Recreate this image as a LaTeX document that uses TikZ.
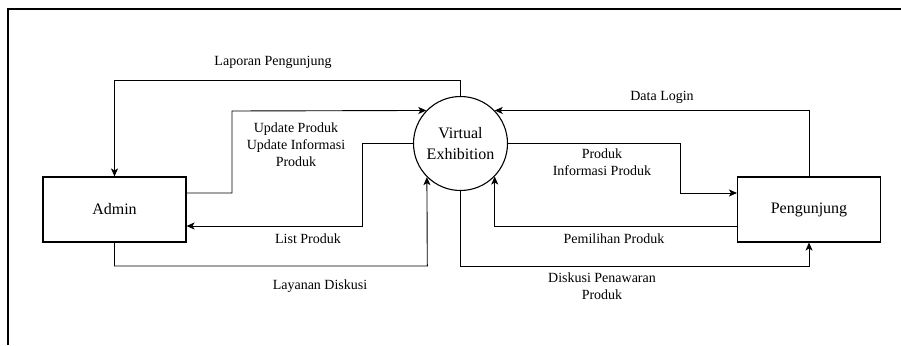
\documentclass[tikz,border=0pt]{standalone}
\usepackage{fontspec}
\setmainfont{Liberation Serif}
\usetikzlibrary{arrows.meta}
\begin{document}
\begin{tikzpicture}[x=1pt,y=-1pt,
  entity/.style={draw,line width=1.1pt,minimum width=143pt,minimum height=65pt,inner sep=0pt,font=\fontsize{16}{19}\selectfont},
  process/.style={draw,line width=1.1pt,circle,minimum size=94pt,inner sep=0pt,align=center,font=\fontsize{16}{21}\selectfont},
  flow/.style={draw,line width=0.9pt,-{Stealth[length=8pt,width=7pt,inset=2pt]}},
  lbl/.style={align=center,inner sep=0pt,font=\fontsize{14}{17}\selectfont}]
\useasboundingbox (0,0) rectangle (901,345);
% outer frame
\draw[line width=1.1pt] (8,345) -- (8,9) -- (901,9);

% entities and process
\node[entity] (admin) at (114.5,209.5) {Admin};
\node[entity] (peng) at (809,209.5) {Pengunjung};
\node[process] (ve) at (460.5,143.5) {Virtual\\Exhibition};

% data flows, Admin side
\draw[flow] (ve.north) |- (114.5,80) -- (admin.north);
\draw[flow] ([yshift=16.5pt]admin.east) -| (232,111) -- (ve.136);
\draw[flow] (ve.west) -| (362,226) -- ([yshift=-16.5pt]admin.east);
\draw[flow] (admin.south) |- (427.3,266) -- (ve.225);

% data flows, Pengunjung side
\draw[flow] (peng.north) |- (ve.44);
\draw[flow] (ve.east) -| (680,193) -- ([yshift=16.5pt]peng.west);
\draw[flow] ([yshift=-16.5pt]peng.west) -| (ve.316);
\draw[flow] (ve.south) |- (809,266) -- (peng.south);

% flow labels
\node[lbl] (l1) at (273,62) {Laporan Pengunjung};
\node[lbl] (l2) at (296,145) {Update Produk\\Update Informasi\\Produk};
\node[lbl] (l3) at (308,239) {List Produk};
\node[lbl] (l4) at (320,286) {Layanan Diskusi};
\node[lbl] (l5) at (662,97) {Data Login};
\node[lbl] (l6) at (602,162.5) {Produk\\Informasi Produk};
\node[lbl] (l7) at (614,239) {Pemilihan Produk};
\node[lbl] (l8) at (602,286) {Diskusi Penawaran\\Produk};
\end{tikzpicture}
\end{document}
